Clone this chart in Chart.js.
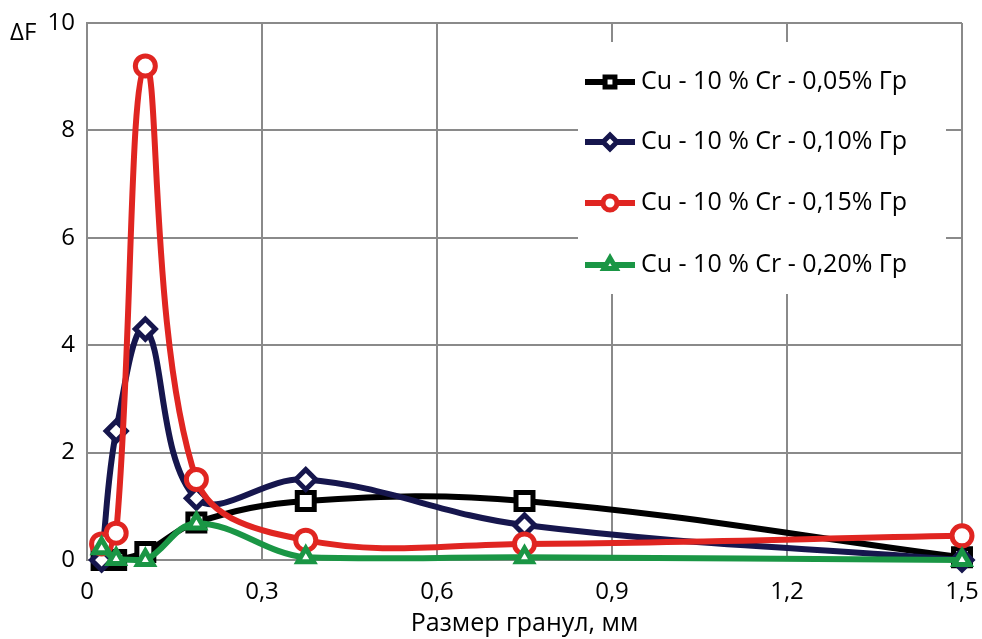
<!DOCTYPE html>
<html>
<head>
<meta charset="utf-8">
<script src="https://cdn.jsdelivr.net/npm/chart.js@4/dist/chart.umd.min.js"></script>
<style>
  html, body { margin: 0; padding: 0; background: #fff; }
  #wrap { width: 982px; height: 639px; }
</style>
</head>
<body>
<div id="wrap"><canvas id="mycanvas" width="982" height="639"></canvas></div>
<script>
// granule size, mm
var sizes = [0.025, 0.05, 0.1, 0.1875, 0.375, 0.75, 1.5];

var gr005 = [0, 0, 0.15, 0.7, 1.1, 1.1, 0.05];
var gr010 = [0, 2.4, 4.3, 1.15, 1.5, 0.65, 0];
var gr015 = [0.3, 0.5, 9.2, 1.5, 0.37, 0.3, 0.45];
var gr020 = [0.22, 0.02, 0, 0.68, 0.05, 0.05, 0];

var labels = ["Cu - 10 % Cr - 0,05% Гр", "Cu - 10 % Cr - 0,10% Гр",
              "Cu - 10 % Cr - 0,15% Гр", "Cu - 10 % Cr - 0,20% Гр"];

var xTicks = [0, 0.3, 0.6, 0.9, 1.2, 1.5];
var yTicks = [0, 2, 4, 6, 8, 10];

var FONT = "'Open Sans', 'Noto Sans', sans-serif";

function pts(ys) {
  var out = [];
  for (var i = 0; i < sizes.length; i++) out.push({x: sizes[i], y: ys[i]});
  return out;
}

function makeSet(label, ys, color, style, radius, order) {
  return {
    label: label,
    data: pts(ys),
    borderColor: color,
    backgroundColor: "#ffffff",
    pointBorderColor: color,
    pointBackgroundColor: "#ffffff",
    borderWidth: 6,
    pointBorderWidth: 5,
    pointStyle: style,
    pointRadius: radius,
    tension: 0.38,
    fill: false,
    clip: false,
    order: order
  };
}

var datasets = [
  makeSet(labels[0], gr005, "#000000", "rect", 12, 4),
  makeSet(labels[1], gr010, "#16164d", "rectRot", 10, 3),
  makeSet(labels[2], gr015, "#e02521", "circle", 10, 2),
  makeSet(labels[3], gr020, "#1a9645", "triangle", 9, 1)
];

// legend box drawn over the plot area, plus the ΔF label
var extras = {
  id: "extras",
  afterDraw: function(chart) {
    var c = chart.ctx;
    c.save();
    c.fillStyle = "#ffffff";
    c.fillRect(578, 42, 368, 252);
    var rows = [82, 142, 203, 265];
    for (var i = 0; i < datasets.length; i++) {
      var ds = datasets[i];
      var y = rows[i];
      c.strokeStyle = ds.borderColor;
      c.lineWidth = 6;
      c.beginPath();
      c.moveTo(585, y);
      c.lineTo(635, y);
      c.stroke();
      c.lineWidth = 5;
      c.fillStyle = "#ffffff";
      Chart.helpers.drawPoint(c, {pointStyle: ds.pointStyle, radius: 7, borderWidth: 5}, 610, y);
      c.fillStyle = "#000000";
      c.font = "25px " + FONT;
      c.textAlign = "left";
      c.textBaseline = "middle";
      c.fillText(ds.label, 641, y);
    }
    c.fillStyle = "#000000";
    c.font = "24px " + FONT;
    c.textAlign = "left";
    c.textBaseline = "middle";
    c.fillText("ΔF", 10, 33);
    c.restore();
  }
};

var ctx = document.getElementById("mycanvas");

var LineGraph = new Chart(ctx, {
  type: 'line',
  data: { datasets: datasets },
  plugins: [extras],
  options: {
    responsive: false,
    animation: false,
    events: [],
    layout: { autoPadding: false, padding: { left: 0, right: 20, top: 23, bottom: 0 } },
    scales: {
      x: {
        type: 'linear',
        min: 0,
        max: 1.5,
        afterBuildTicks: function(scale) {
          scale.ticks = xTicks.map(function(v) { return {value: v}; });
        },
        afterFit: function(scale) {
          scale.height = 79;
          scale.paddingLeft = 0;
          scale.paddingRight = 0;
        },
        ticks: {
          color: "#000000",
          font: { family: FONT, size: 24 },
          padding: 18,
          maxRotation: 0,
          callback: function(v) {
            return v === 0 ? "0" : v.toFixed(1).replace(".", ",");
          }
        },
        grid: { color: "#8a8a8a", lineWidth: 2, drawTicks: false },
        border: { color: "#8a8a8a", width: 2 },
        title: {
          display: true,
          text: 'Размер гранул, мм',
          color: "#000000",
          font: { family: FONT, size: 25 },
          padding: { top: 0, bottom: 0 }
        }
      },
      y: {
        min: 0,
        max: 10,
        afterBuildTicks: function(scale) {
          scale.ticks = yTicks.map(function(v) { return {value: v}; });
        },
        afterFit: function(scale) {
          scale.width = 87;
          scale.paddingTop = 0;
          scale.paddingBottom = 0;
        },
        ticks: {
          color: "#000000",
          font: { family: FONT, size: 24 },
          padding: 12
        },
        grid: { color: "#8a8a8a", lineWidth: 2, drawTicks: false },
        border: { color: "#8a8a8a", width: 2 }
      }
    },
    plugins: {
      legend: { display: false },
      tooltip: { enabled: false },
      title: { display: false }
    }
  }
});
</script>
</body>
</html>
